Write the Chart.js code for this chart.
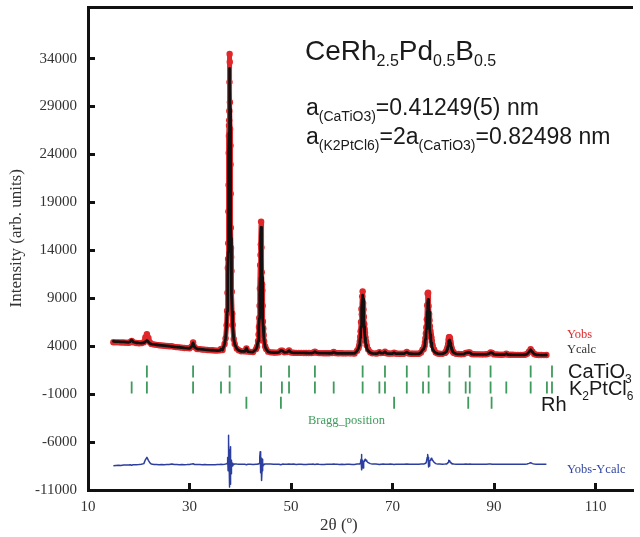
<!DOCTYPE html>
<html>
<head>
<meta charset="utf-8">
<script src="https://cdn.jsdelivr.net/npm/chart.js@4.4.1/dist/chart.umd.min.js"></script>
<style>
  html, body { margin: 0; padding: 0; background: #fff; }
</style>
</head>
<body>
<canvas id="xrd" width="640" height="537"></canvas>
<script>
// 2theta grid shared by Yobs / Ycalc / Yobs-Ycalc
const twoTheta = [
  15.0, 15.5, 16.0, 16.5, 17.0, 17.5, 18.0, 18.3, 18.6, 18.9, 19.5, 20.0, 20.5, 21.0, 21.3, 21.6, 21.9,
  22.2, 22.5, 23.0, 23.5, 24.0, 24.5, 25.0, 25.5, 26.0, 26.5, 27.0, 27.5, 28.0, 28.5, 29.0, 29.5, 30.0, 30.4, 30.7, 31.0,
  31.5, 32.0, 32.5, 33.0, 33.5, 34.0, 34.5, 35.0, 35.5, 36.0, 36.2, 36.5,
  // main reflection
  36.9, 37.1, 37.3, 37.4, 37.48, 37.54, 37.6, 37.63, 37.66, 37.69, 37.72, 37.75, 37.78, 37.81, 37.84, 37.87, 37.9, 37.93, 37.96, 37.99,
  38.02, 38.05, 38.08, 38.11, 38.14, 38.17, 38.2, 38.26, 38.32, 38.4, 38.5, 38.7, 38.9, 39.3, 39.7, 40.2, 40.9, 41.2, 41.5, 42.0,
  42.5,
  43.1, 43.3, 43.5, 43.6, 43.68, 43.74, 43.8, 43.86, 43.92, 43.98, 44.04, 44.1, 44.16, 44.22, 44.28, 44.34, 44.4, 44.46, 44.52, 44.6,
  44.7, 44.9, 45.1, 45.5, 46.0, 46.5, 47.0, 47.6, 48.0, 48.3, 48.7, 49.2, 49.6,
  50.0, 50.5, 51.0, 51.5, 52.0, 52.5, 53.0, 53.5, 54.0, 54.4, 54.7, 55.0, 55.5, 56.0, 56.5, 57.0, 57.5, 58.1, 58.4, 58.7,
  59.1, 59.5, 60.0, 60.5, 61.0, 61.5, 62.0, 62.5,
  63.0, 63.3, 63.43, 63.54, 63.62, 63.7, 63.78, 63.86, 63.94, 64.02, 64.1, 64.18, 64.26, 64.34, 64.42, 64.5, 64.58, 64.66, 64.77, 64.9,
  65.2, 65.6, 66.0,
  66.7, 67.1, 67.4, 67.7, 68.2, 68.5, 68.8, 69.2, 69.5, 70.0, 70.3, 70.6, 71.0, 71.5, 72.0, 72.3, 72.8, 73.3, 73.7, 74.0,
  74.4, 74.8, 75.2,
  75.6, 75.9, 76.12, 76.27, 76.38, 76.47, 76.56, 76.65, 76.74, 76.82, 76.91, 77.0, 77.09, 77.18, 77.26, 77.35, 77.44, 77.53, 77.62, 77.73,
  77.88, 78.17, 78.5, 78.9,
  79.3, 79.8,
  80.3, 80.47, 80.58, 80.67, 80.76, 80.85, 80.94, 81.02, 81.11, 81.2, 81.29, 81.38, 81.46, 81.55, 81.64, 81.73, 81.82, 81.93, 82.1, 82.5,
  83.0, 83.5, 84.0, 84.4, 84.9, 85.2, 85.6, 86.0, 86.5, 87.0, 87.5, 88.0, 88.5, 89.0, 89.3, 89.6, 90.0, 90.5, 91.0, 91.5,
  92.0, 92.4, 92.7, 93.2, 93.7, 94.2, 94.7, 95.2, 95.7, 96.1, 96.5, 96.85, 97.2, 97.55, 97.9, 98.3, 98.8, 99.3, 99.8, 100.3
];

const yObs = [
  4420, 4400, 4400, 4380, 4390, 4370, 4360, 4420, 4560, 4420, 4330, 4310, 4320, 4420, 4900, 5250, 4850,
  4400, 4240, 4170, 4140, 4100, 4080, 4040, 4020, 3990, 3990, 3930, 3900, 3880, 3850, 3820, 3800, 3790, 3980, 4400, 3900,
  3710, 3690, 3660, 3640, 3610, 3590, 3570, 3550, 3540, 3570, 3720, 3610,
  4230, 4820, 6180, 7710, 9580, 12150, 13110, 14750, 18060, 20810, 24150, 25930, 27020, 27560, 28540, 31550, 34480, 33650, 29440, 26660,
  24920, 24930, 22950, 19910, 16360, 14250, 13310, 11850, 9680, 7410, 6240, 4760, 4240, 3750, 3570, 3470, 3460, 3760, 3440, 3410,
  3395,
  3700, 3960, 4550, 5220, 6010, 6960, 8220, 10020, 12470, 13510, 14600, 17000, 14300, 11710, 10470, 9820, 8220, 6580, 5870, 5180,
  4490, 3970, 3700, 3430, 3360, 3340, 3330, 3370, 3540, 3540, 3370, 3390, 3560,
  3350, 3320, 3300, 3305, 3300, 3295, 3290, 3290, 3280, 3340, 3420, 3330, 3280, 3275, 3265, 3270, 3270, 3290, 3400, 3290,
  3262, 3260, 3258, 3250, 3255, 3255, 3250, 3245,
  3520, 3800, 4110, 4500, 4980, 5570, 6520, 7880, 7330, 9200, 9720, 8500, 7830, 7080, 6320, 5770, 5380, 4910, 4490, 4090,
  3660, 3380, 3260,
  3235, 3270, 3380, 3280, 3300, 3430, 3270, 3232, 3230, 3240, 3320, 3235, 3225, 3220, 3222, 3230, 3390, 3225, 3215, 3210,
  3208, 3210, 3212,
  3350, 3630, 3720, 4030, 4390, 4830, 5330, 5990, 6800, 8280, 9490, 9580, 8190, 7380, 6700, 6090, 5580, 5230, 4930, 4540,
  4100, 3650, 3350, 3230,
  3205, 3200,
  3300, 3380, 3480, 3600, 3740, 3940, 4240, 4650, 4930, 4950, 4830, 4500, 4190, 3940, 3730, 3590, 3480, 3380, 3300, 3200,
  3180, 3165, 3175, 3290, 3340, 3340, 3175, 3155, 3150, 3150, 3145, 3143, 3155, 3230, 3340, 3300, 3145, 3128, 3120, 3115,
  3122, 3220, 3120, 3110, 3103, 3100, 3100, 3092, 3095, 3115, 3200, 3430, 3700, 3420, 3190, 3105, 3088, 3078, 3072, 3080
];

const yCalc = [
  4500, 4480, 4470, 4460, 4450, 4430, 4410, 4470, 4650, 4460, 4360, 4340, 4330, 4360, 4460, 4600, 4450,
  4280, 4220, 4180, 4150, 4120, 4090, 4060, 4030, 4000, 3970, 3940, 3910, 3890, 3860, 3830, 3810, 3780, 3950, 4350, 3900,
  3710, 3690, 3670, 3640, 3620, 3600, 3580, 3560, 3545, 3560, 3700, 3600,
  4220, 4810, 6140, 7610, 9380, 11450, 13810, 15250, 16960, 18910, 21150, 23630, 26220, 28760, 30940, 32450, 32980, 32450, 30940, 28760,
  26220, 23630, 21150, 18910, 16960, 15250, 13810, 11450, 9380, 7610, 6140, 4810, 4220, 3750, 3560, 3460, 3450, 3800, 3430, 3400,
  3390,
  3690, 3950, 4530, 5190, 5970, 6880, 7920, 9320, 11170, 13410, 15500, 16400, 15500, 13410, 11170, 9320, 7920, 6880, 5970, 5190,
  4530, 3950, 3690, 3420, 3360, 3335, 3330, 3360, 3560, 3520, 3360, 3380, 3540,
  3350, 3310, 3305, 3300, 3300, 3295, 3290, 3285, 3280, 3330, 3430, 3320, 3275, 3272, 3270, 3268, 3265, 3290, 3390, 3290,
  3262, 3260, 3257, 3255, 3252, 3250, 3248, 3245,
  3510, 3790, 4090, 4460, 4880, 5370, 6020, 6880, 7930, 8900, 9320, 8900, 7930, 6880, 6020, 5370, 4880, 4460, 4090, 3790,
  3510, 3330, 3260,
  3230, 3260, 3400, 3270, 3290, 3420, 3260, 3230, 3225, 3235, 3330, 3230, 3222, 3220, 3220, 3225, 3380, 3220, 3213, 3210,
  3207, 3205, 3208,
  3340, 3620, 3700, 3990, 4330, 4730, 5180, 5790, 6600, 7580, 8490, 8880, 8490, 7580, 6600, 5790, 5180, 4730, 4330, 3990,
  3700, 3450, 3300, 3230,
  3200, 3195,
  3300, 3370, 3460, 3560, 3680, 3840, 4040, 4300, 4530, 4630, 4530, 4300, 4040, 3840, 3680, 3560, 3460, 3370, 3300, 3210,
  3175, 3165, 3170, 3280, 3350, 3330, 3170, 3155, 3148, 3145, 3143, 3142, 3150, 3220, 3330, 3300, 3140, 3125, 3118, 3115,
  3120, 3220, 3115, 3107, 3102, 3099, 3095, 3091, 3093, 3110, 3180, 3380, 3620, 3390, 3180, 3103, 3085, 3077, 3070, 3080
];

const yDiff = [
  -8480, -8440, -8420, -8440, -8400, -8390, -8380, -8360, -8420, -8370, -8360, -8350, -8320, -8250, -7850, -7600, -7900,
  -8180, -8300, -8340, -8350, -8360, -8340, -8360, -8350, -8350, -8280, -8350, -8350, -8360, -8350, -8360, -8350, -8330, -8300, -8260, -8340,
  -8350, -8350, -8360, -8350, -8360, -8360, -8360, -8360, -8350, -8340, -8320, -8330,
  -8310, -8290, -8260, -8200, -8100, -7600, -9000, -8800, -7200, -6400, -5300, -6000, -7500, -9500, -10700, -9200, -6800, -7100, -9800, -10400,
  -9600, -7000, -6500, -7300, -8900, -9300, -8800, -7900, -8000, -8500, -8200, -8350, -8280, -8300, -8310, -8320, -8320, -8360, -8320, -8320,
  -8330,
  -8310, -8310, -8280, -8270, -8260, -8220, -8000, -7600, -7000, -8200, -9200, -7700, -9500, -10000, -9000, -7800, -8000, -8600, -8400, -8310,
  -8340, -8280, -8290, -8290, -8300, -8310, -8320, -8310, -8360, -8300, -8310, -8310, -8300,
  -8320, -8300, -8330, -8310, -8320, -8330, -8330, -8310, -8310, -8300, -8340, -8300, -8320, -8330, -8330, -8320, -8310, -8320, -8300, -8320,
  -8320, -8330, -8320, -8340, -8320, -8320, -8330, -8330,
  -8300, -8290, -8280, -8260, -8200, -8100, -7800, -7300, -8900, -8000, -7900, -8700, -8400, -8100, -8000, -7900, -7800, -7850, -7900, -8000,
  -8150, -8250, -8300,
  -8300, -8310, -8340, -8310, -8300, -8310, -8310, -8305, -8300, -8310, -8330, -8310, -8310, -8320, -8315, -8310, -8300, -8320, -8315, -8320,
  -8310, -8310, -8310,
  -8300, -8290, -8280, -8260, -8240, -8200, -8150, -8100, -8100, -7600, -7300, -7600, -8600, -8500, -8200, -8000, -7900, -7800, -7700, -7750,
  -7900, -8100, -8250, -8300,
  -8300, -8310,
  -8300, -8290, -8280, -8260, -8240, -8200, -8100, -7950, -7900, -7980, -8000, -8100, -8150, -8200, -8250, -8270, -8280, -8290, -8300, -8310,
  -8310, -8320, -8310, -8300, -8320, -8300, -8310, -8315, -8320, -8310, -8310, -8315, -8310, -8300, -8300, -8320, -8310, -8310, -8315, -8320,
  -8310, -8320, -8310, -8310, -8315, -8320, -8310, -8320, -8315, -8305, -8280, -8220, -8150, -8250, -8290, -8305, -8310, -8310, -8315, -8310
];

// Bragg reflection positions (2theta) for each phase
const braggCaTiO3 = [21.6, 30.7, 37.9, 44.1, 49.6, 54.7, 64.1, 68.5, 72.8, 77.1, 81.2, 85.2, 89.3, 97.2, 101.4];
const braggK2PtCl6 = [18.6, 21.6, 30.7, 36.2, 37.9, 44.1, 48.2, 49.6, 54.7, 58.4, 64.1, 67.4, 68.5, 72.8,
                      76.0, 77.1, 81.2, 84.4, 85.2, 89.3, 92.4, 97.2, 100.4, 101.4];
const braggRh = [41.2, 48.0, 70.3, 84.9, 89.5];

const xTicks = [10, 30, 50, 70, 90, 110];
const yTicks = [-11000, -6000, -1000, 4000, 9000, 14000, 19000, 24000, 29000, 34000];

const serif = "'Liberation Serif', 'Times New Roman', serif";
const sans = "'Liberation Sans', Arial, sans-serif";

const pts = ys => twoTheta.map((t, i) => ({ x: t, y: ys[i] }));
const row = (list, level) => list.map(t => ({ x: t, y: level }));

function braggSet(list, level) {
  return {
    data: row(list, level),
    showLine: false,
    pointStyle: 'line',
    pointRotation: 90,
    pointRadius: 6,
    borderColor: '#3f9b5c',
    pointBorderColor: '#3f9b5c',
    pointBorderWidth: 1.8,
    order: 5
  };
}

// draws a string made of normal / subscript pieces
function rich(ctx, x, y, parts, size, subSize, drop) {
  let cx = x;
  parts.forEach(p => {
    const sub = p[1];
    ctx.font = (sub ? subSize : size) + 'px ' + sans;
    ctx.fillText(p[0], cx, sub ? y + drop : y);
    cx += ctx.measureText(p[0]).width;
  });
}

const textLayer = {
  id: 'textLayer',
  afterDraw(chart) {
    const ctx = chart.ctx;
    ctx.save();
    ctx.textBaseline = 'alphabetic';
    ctx.textAlign = 'left';
    ctx.fillStyle = '#1a1a1a';
    rich(ctx, 305, 60, [['CeRh'], ['2.5', 1], ['Pd'], ['0.5', 1], ['B'], ['0.5', 1]], 28, 16, 6);
    rich(ctx, 306, 115, [['a'], ['(CaTiO3)', 1], ['=0.41249(5) nm']], 23, 14, 6);
    rich(ctx, 306, 144, [['a'], ['(K2PtCl6)', 1], ['=2a'], ['(CaTiO3)', 1], ['=0.82498 nm']], 23, 14, 6);

    rich(ctx, 568, 378, [['CaTiO'], ['3', 1]], 20, 12, 5);
    rich(ctx, 569, 395, [['K'], ['2', 1], ['PtCl'], ['6', 1]], 20, 12, 5);
    rich(ctx, 541, 411, [['Rh']], 20, 12, 5);

    ctx.textBaseline = 'middle';
    ctx.font = '12.5px ' + serif;
    ctx.fillStyle = '#e0282b';
    ctx.fillText('Yobs', 567, 335);
    ctx.fillStyle = '#333';
    ctx.fillText('Ycalc', 567, 350);
    ctx.fillStyle = '#3f9b5c';
    ctx.fillText('Bragg_position', 308, 421);
    ctx.fillStyle = '#3146a3';
    ctx.fillText('Yobs-Ycalc', 567, 470);
    ctx.restore();
  }
};

const axisGrid = { drawOnChartArea: false, drawTicks: true, tickLength: -7, lineWidth: 3, color: '#111' };
const axisBorder = { display: true, width: 3, color: '#111' };

new Chart(document.getElementById('xrd'), {
  type: 'scatter',
  data: {
    datasets: [
      {
        label: 'Ycalc', data: pts(yCalc), showLine: true,
        borderColor: '#111', borderWidth: 2.8, pointRadius: 0,
        borderJoinStyle: 'round', borderCapStyle: 'round', order: 1
      },
      {
        label: 'Yobs', data: pts(yObs), showLine: true,
        borderColor: '#e0282b', borderWidth: 5, pointRadius: 3.2,
        borderJoinStyle: 'round', borderCapStyle: 'round',
        pointBackgroundColor: '#e0282b', pointBorderWidth: 0, order: 2
      },
      {
        label: 'Yobs-Ycalc', data: pts(yDiff), showLine: true,
        borderColor: '#2c3f9e', borderWidth: 1.5, pointRadius: 0,
        borderJoinStyle: 'round', order: 0
      },
      braggSet(braggCaTiO3, 1350),
      braggSet(braggK2PtCl6, -300),
      braggSet(braggRh, -1900)
    ]
  },
  options: {
    responsive: false,
    animation: false,
    devicePixelRatio: 1,
    events: [],
    layout: { padding: 0 },
    plugins: { legend: { display: false }, tooltip: { enabled: false } },
    scales: {
      x: {
        type: 'linear', position: 'bottom', min: 10, max: 117.2,
        afterBuildTicks: s => { s.ticks = xTicks.map(v => ({ value: v })); },
        afterFit: s => { s.height = 47; s.paddingLeft = 0; s.paddingRight = 0; },
        grid: axisGrid,
        border: axisBorder,
        ticks: {
          padding: 15, color: '#333', maxRotation: 0, autoSkip: false,
          font: { family: serif, size: 15 }, callback: v => String(v)
        },
        title: {
          display: true, text: '2θ (º)          ', color: '#333',
          font: { family: serif, size: 17 }, padding: { top: 0, bottom: 1 }
        }
      },
      x2: {
        type: 'linear', position: 'top', min: 10, max: 117.2,
        afterFit: s => { s.height = 7; s.paddingLeft = 0; s.paddingRight = 0; },
        grid: { drawOnChartArea: false, drawTicks: false },
        border: axisBorder,
        ticks: { display: false }
      },
      y: {
        type: 'linear', min: -11000, max: 39300,
        afterBuildTicks: s => { s.ticks = yTicks.map(v => ({ value: v })); },
        afterFit: s => { s.width = 88; s.paddingTop = 0; s.paddingBottom = 0; },
        grid: axisGrid,
        border: axisBorder,
        ticks: {
          padding: 18, color: '#333',
          font: { family: serif, size: 15 }, callback: v => String(v)
        },
        title: {
          display: true, text: '     Intensity (arb. units)', color: '#333',
          font: { family: serif, size: 17 }, padding: { top: 6, bottom: 0 }
        }
      }
    }
  },
  plugins: [textLayer]
});
</script>
</body>
</html>
